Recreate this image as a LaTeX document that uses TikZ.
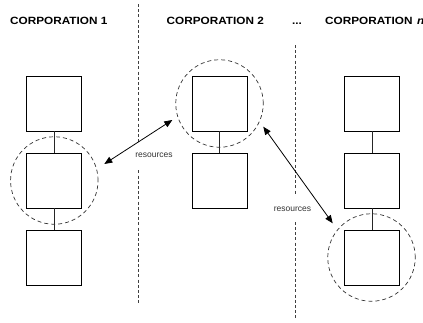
\documentclass[tikz,border=0pt]{standalone}
\usepackage{fontspec}
\setmainfont{Liberation Sans}
\newfontfamily\hdrfont{Liberation Sans Bold}[FakeStretch=1.12]
\usetikzlibrary{arrows.meta}
\begin{document}
\begin{tikzpicture}[x=1pt,y=-1pt,
  unit/.style={draw=black, line width=0.8pt, minimum size=55pt, inner sep=0pt, fill=white},
  link/.style={draw=black!85, line width=0.8pt},
  focus/.style={circle, draw=black!80, dashed, dash pattern=on 4pt off 3pt, line width=0.7pt, minimum size=87.5pt, inner sep=0pt},
  divider/.style={draw=black!75, line width=0.8pt, dash pattern=on 3pt off 2.2pt},
  header/.style={anchor=base west, inner sep=0pt, font=\hdrfont\fontsize{10.5}{12}\selectfont},
  flow/.style={line width=0.8pt, {Triangle[length=8pt,width=6.5pt]}-{Triangle[length=8pt,width=6.5pt]}},
  tag/.style={fill=white, inner xsep=1pt, minimum height=26pt, text=black!80, font=\fontsize{8.5}{10}\selectfont}]
\useasboundingbox (0,0) rectangle (423,322);

% headers
\node[header] (h1) at (10,24) {CORPORATION 1};
\node[header] (h2) at (166.5,24) {CORPORATION 2};
\node[header] (hd) at (292,24) {...};
\node[header] (hn) at (325,24) {CORPORATION\hspace{4.5pt}\textit{n}};

% column dividers
\coordinate (d1t) at (138.3,4);
\coordinate (d1b) at (138.3,303);
\coordinate (d2t) at (295.5,45);
\coordinate (d2b) at (295.5,318);
\draw[divider] (d1t) -- (d1b);
\draw[divider] (d2t) -- (d2b);

% corporation 1
\node[unit] (a1) at (54.3,103.5) {};
\node[unit] (a2) at (54.3,180.5) {};
\node[unit] (a3) at (54.3,257.5) {};
\draw[link] (a1) -- (a2);
\draw[link] (a2) -- (a3);

% corporation 2
\node[unit] (b1) at (219.5,103.5) {};
\node[unit] (b2) at (219.5,180.5) {};
\draw[link] (b1) -- (b2);

% corporation n
\node[unit] (c1) at (372,103.5) {};
\node[unit] (c2) at (372,180.5) {};
\node[unit] (c3) at (372,257.5) {};
\draw[link] (c1) -- (c2);
\draw[link] (c2) -- (c3);

% highlighted units
\node[focus] (fa) at (54.3,180.5) {};
\node[focus] (fb) at (219.5,103.5) {};
\node[focus] (fc) at (371.5,257.5) {};

% resource exchanges
\node[tag] (r1) at (154,155) {resources};
\node[tag] (r2) at (292.5,209) {resources};
\coordinate (e1a) at (104.3,164);
\coordinate (e1b) at (172.3,120);
\coordinate (e2a) at (263.3,126.7);
\coordinate (e2b) at (332.7,223.3);
\draw[flow] (e1a) -- (e1b);
\draw[flow] (e2a) -- (e2b);
\end{tikzpicture}
\end{document}
